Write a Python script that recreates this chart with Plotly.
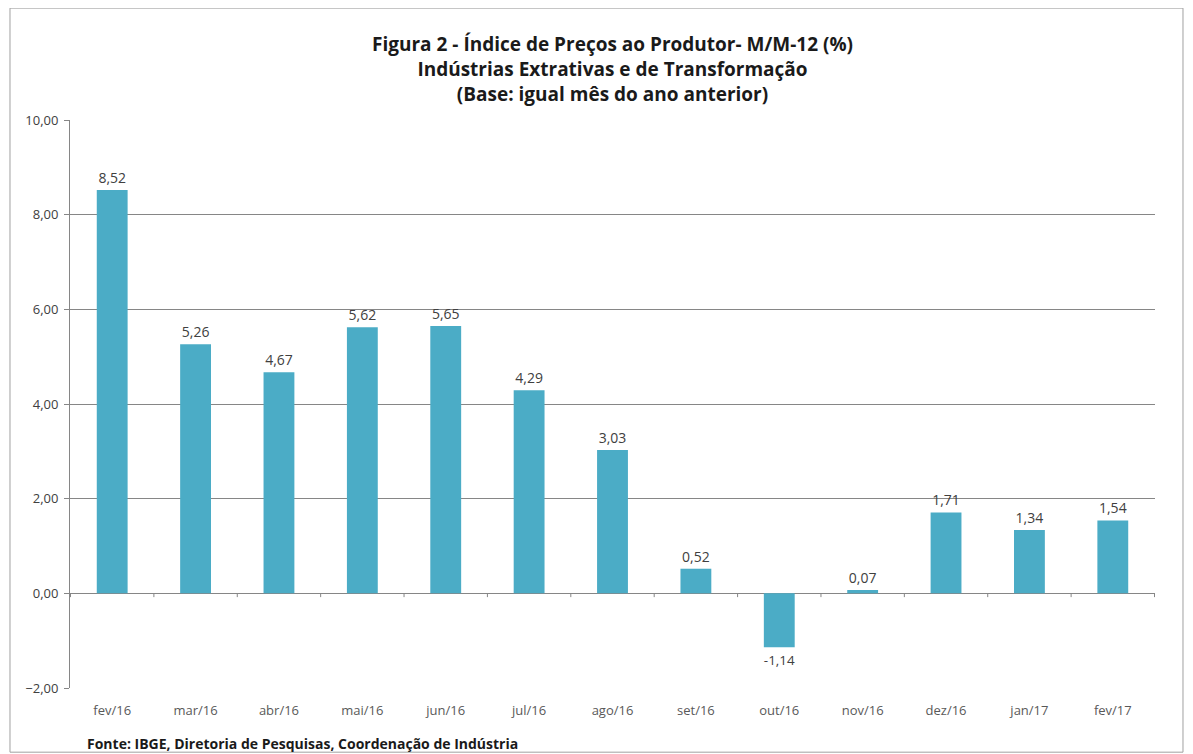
import plotly.graph_objects as go

categories = ["fev/16", "mar/16", "abr/16", "mai/16", "jun/16", "jul/16", "ago/16",
              "set/16", "out/16", "nov/16", "dez/16", "jan/17", "fev/17"]
values = [8.52, 5.26, 4.67, 5.62, 5.65, 4.29, 3.03, 0.52, -1.14, 0.07, 1.71, 1.34, 1.54]
labels = [f"{v:.2f}".replace(".", ",") for v in values]

FONT = "Open Sans, Liberation Sans, sans-serif"
GRID = "#868686"

fig = go.Figure(go.Bar(
    x=categories, y=values, width=0.37,
    marker=dict(color="#4BACC6", line=dict(width=0)),
    text=labels, textposition="outside",
    textfont=dict(family=FONT, size=14, color="#404040"),
    cliponaxis=False,
))

# page body has an 8px margin, so the figure is 8px smaller and shifted
fig.update_layout(
    width=1185, height=746,
    margin=dict(l=62, r=38, t=112, b=66),
    paper_bgcolor="white", plot_bgcolor="white",
    separators=",.",
    showlegend=False,
    title=dict(
        text="<b>Figura 2 - Índice de Preços ao Produtor- M/M-12 (%)</b><br>"
             "<b>Indústrias Extrativas e de Transformação</b><br>"
             "<b>(Base: igual mês do ano anterior)</b>",
        x=0.5, xanchor="center", xref="paper", y=0.942, yanchor="top",
        font=dict(family=FONT, size=19, color="#1a1a1a"),
    ),
    xaxis=dict(
        showgrid=False, showline=False, ticks="",
        tickfont=dict(family=FONT, size=13, color="#595959"),
        ticklabelstandoff=13,
    ),
    yaxis=dict(
        range=[-2, 10], dtick=2, tickformat=".2f",
        showgrid=True, gridcolor=GRID, gridwidth=1,
        zeroline=True, zerolinecolor=GRID, zerolinewidth=1,
        showline=True, linecolor=GRID, linewidth=1,
        ticks="outside", ticklen=5, tickcolor=GRID,
        tickfont=dict(family=FONT, size=13, color="#404040"),
        ticklabelstandoff=3,
    ),
)

# x-axis tick marks at category boundaries on the zero line
for i in range(len(categories) + 1):
    fig.add_shape(type="line", xref="x", yref="y", x0=i - 0.5, x1=i - 0.5, y0=0, y1=-0.08,
                  line=dict(color=GRID, width=1))

# outer chart border
fig.add_shape(type="rect", xref="paper", yref="paper", x0=-0.0553, x1=1.0258, y0=-0.113, y1=1.197,
              line=dict(color="#a0a0a0", width=1), layer="below")

fig.add_annotation(
    text="<b>Fonte: IBGE, Diretoria de Pesquisas, Coordenação de Indústria</b>",
    xref="paper", yref="paper", x=(85 - 70) / 1085, y=(688 - 743) / 568,
    xanchor="left", yanchor="middle", showarrow=False,
    font=dict(family=FONT, size=14, color="#1a1a1a"),
)

fig.write_html("out.html")
